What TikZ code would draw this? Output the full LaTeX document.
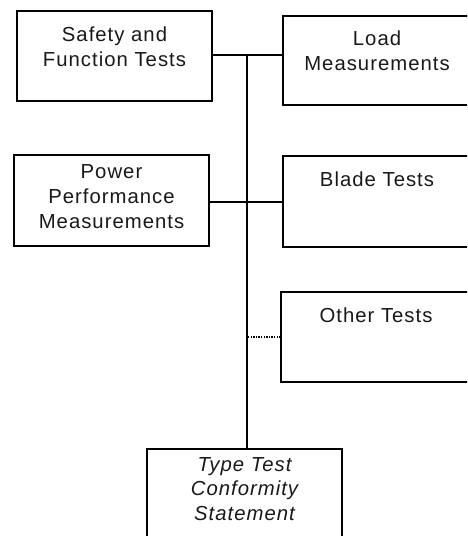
\documentclass[tikz,border=0pt]{standalone}
\usepackage{fontspec}
\setmainfont{Liberation Sans}[LetterSpace=5]
\usetikzlibrary{calc}
\begin{document}
\begin{tikzpicture}[x=1pt,y=-1pt,
  box/.style={draw=black,line width=2pt,rectangle,inner sep=0pt,anchor=north west},
  txt/.style={anchor=north,inner sep=0pt,align=center,text=black!90,
    font=\fontsize{20.3}{25}\selectfont},
  conn/.style={line width=2pt,draw=black},
  dots/.style={line width=1.6pt,draw=black,dash pattern=on 1.3pt off 1.3pt}]
\clip (0,0) rectangle (467,536);
\fill[white] (0,0) rectangle (467,536);
\node[box,minimum width=195pt,minimum height=90.5pt] (A) at (16,9.5) {};
\node[box,minimum width=188pt,minimum height=89.5pt] (B) at (282,14.5) {};
\node[box,minimum width=195pt,minimum height=91pt] (C) at (13,153.5) {};
\node[box,minimum width=188pt,minimum height=91.5pt] (D) at (282,154.5) {};
\node[box,minimum width=190pt,minimum height=90.5pt] (E) at (280,290.5) {};
\node[box,minimum width=195pt,minimum height=95pt] (F) at (146,447.5) {};
\node[txt] (tA) at ($(A.north)+(0,17.5)$) {Safety and\\Function Tests};
\node[txt] (tB) at ($(B.north)+(0,16.5)$) {Load\\Measurements};
\node[txt] (tC) at ($(C.north)+(0,10.5)$) {Power\\Performance\\Measurements};
\node[txt] (tD) at ($(D.north)+(0,16.8)$) {Blade Tests};
\node[txt] (tE) at ($(E.north)+(0,17.3)$) {Other Tests};
\node[txt,font=\fontsize{20.3}{24.3}\selectfont\itshape] (tF) at ($(F.north)+(0,10)$) {Type Test\\Conformity\\Statement};
\coordinate (J) at (246.5,54.5);
\draw[conn] (A.east |- J) -- (B.west |- J);
\draw[conn] (J) -- (J |- F.north);
\draw[conn] ($(C.east)+(0,2)$) -- ($(D.west |- C.east)+(0,2)$);
\draw[dots] ($(J |- E.west)+(1.5,0)$) -- (E.west);
\end{tikzpicture}
\end{document}
